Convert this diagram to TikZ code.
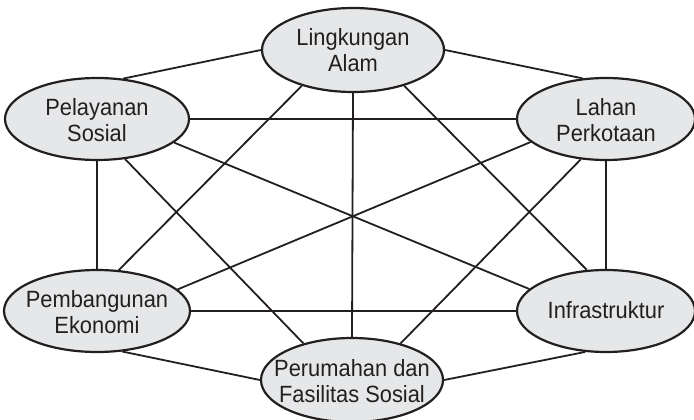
\documentclass[tikz,border=0pt]{standalone}
\usepackage{fontspec}
\setmainfont{Liberation Sans}[FakeStretch=0.93]
\usetikzlibrary{shapes.geometric}
\definecolor{ink}{HTML}{231F20}
\definecolor{bubble}{HTML}{E6E7E8}
% zero-size label: first baseline raised by #1 above the ellipse centre
\newcommand{\lbl}[2]{\makebox[0pt]{\raisebox{#1}[0pt][0pt]{\begin{tabular}[t]{@{}c@{}}#2\end{tabular}}}}
\begin{document}
\begin{tikzpicture}[x=1pt,y=-1pt,
  topic/.style={ellipse, draw=ink, line width=2.2pt, fill=bubble, inner sep=0pt,
    font=\fontsize{23.5}{26}\selectfont, text=ink},
  link/.style={draw=ink, line width=1.8pt}]
\useasboundingbox (0,0) rectangle (694,420);

\node[topic, minimum width=182pt, minimum height=84pt] (alam)  at (353,50)  {\lbl{4pt}{Lingkungan\\Alam}};
\node[topic, minimum width=184pt, minimum height=82pt] (pel)   at (97,119)  {\lbl{4pt}{Pelayanan\\Sosial}};
\node[topic, minimum width=178pt, minimum height=82pt] (lahan) at (606,119) {\lbl{4pt}{Lahan\\Perkotaan}};
\node[topic, minimum width=186pt, minimum height=82pt] (pemb)  at (97,311)  {\lbl{4pt}{Pembangunan\\Ekonomi}};
\node[topic, minimum width=178pt, minimum height=82pt] (infra) at (606,311) {\lbl{-7pt}{Infrastruktur}};
\node[topic, minimum width=182pt, minimum height=84pt] (rumah) at (352,380) {\lbl{4pt}{Perumahan dan\\Fasilitas Sosial}};

% every pair of topics is linked
\draw[link] (alam.180) -- (pel.57);
\draw[link] (alam.0)   -- (lahan.120);
\draw[link] (alam.-145) -- (pemb.62);
\draw[link] (alam.-90) -- (rumah.90);
\draw[link] (alam.-35) -- (infra.115);
\draw[link] (pel.0)    -- (lahan.180);
\draw[link] (pel.-90)  -- (pemb.90);
\draw[link] (pel.-17)  -- (infra.164);
\draw[link] (pel.-55)  -- (rumah.143);
\draw[link] (lahan.197) -- (pemb.15);
\draw[link] (lahan.-90) -- (infra.90);
\draw[link] (lahan.238) -- (rumah.37);
\draw[link] (pemb.0)   -- (infra.180);
\draw[link] (pemb.-58) -- (rumah.180);
\draw[link] (infra.243) -- (rumah.0);
\end{tikzpicture}
\end{document}
